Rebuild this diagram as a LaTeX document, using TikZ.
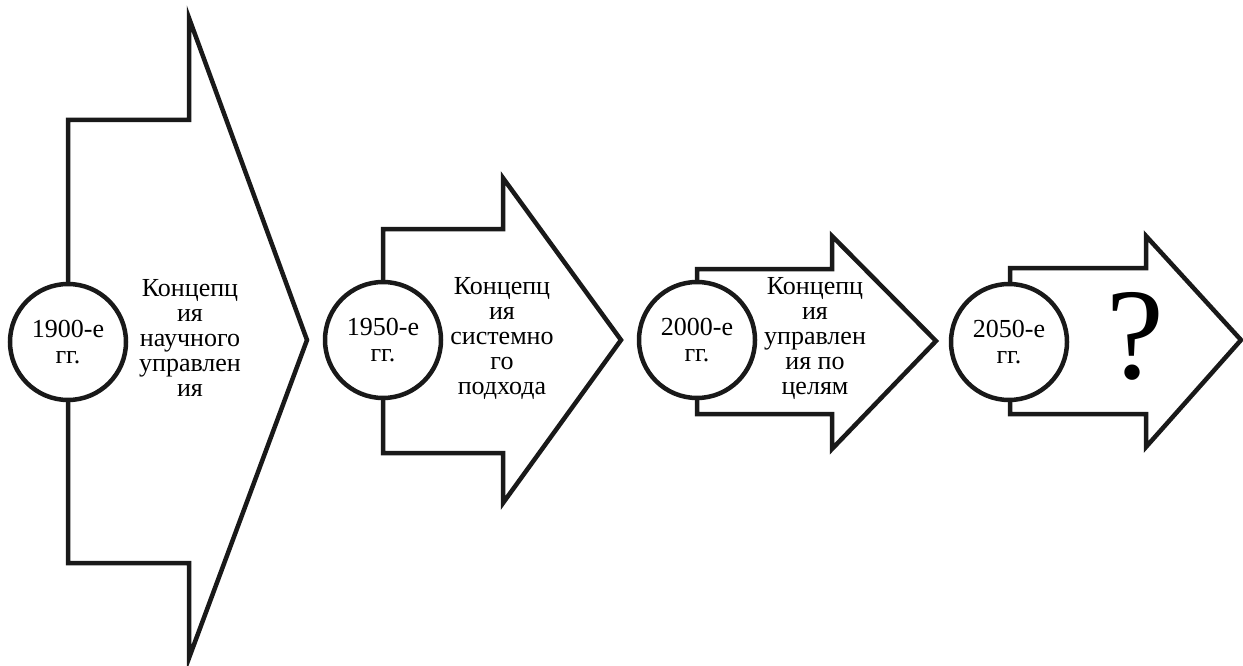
\documentclass[tikz,border=0pt]{standalone}
\usepackage{fontspec}
\setmainfont{Liberation Serif}
\begin{document}
\begin{tikzpicture}[x=1pt,y=-1pt,
  arrowshape/.style={draw=black!90, line width=4.5pt, fill=white, line join=miter, miter limit=20},
  yearcircle/.style={circle, draw=black!90, line width=4.5pt, fill=white, minimum size=116pt, inner sep=0pt, align=center, font=\fontsize{26}{26}\selectfont},
  conceptlabel/.style={align=center, inner sep=0pt, font=\fontsize{26}{25}\selectfont}]
\useasboundingbox (0,0) rectangle (1243,666);
% arrow 1
\draw[arrowshape] (68,120) -- (189,120) -- (189,18) -- (307,340) -- (189,658) -- (189,563) -- (68,563) -- cycle;
\node[yearcircle] (c1) at (68,342) {1900-е\\гг.};
\node[conceptlabel] (t1) at (190,338) {Концепц\\ия\\научного\\управлен\\ия};
% arrow 2
\draw[arrowshape] (383,229) -- (503,229) -- (503,178) -- (621,340) -- (503,503) -- (503,453) -- (383,453) -- cycle;
\node[yearcircle] (c2) at (383,340) {1950-е\\гг.};
\node[conceptlabel] (t2) at (502,338) {Концепц\\ия\\системно\\го\\подхода};
% arrow 3
\draw[arrowshape] (697,269) -- (832,269) -- (832,236) -- (936,341) -- (832,449) -- (832,414) -- (697,414) -- cycle;
\node[yearcircle] (c3) at (697,340) {2000-е\\гг.};
\node[conceptlabel] (t3) at (815,338) {Концепц\\ия\\управлен\\ия по\\целям};
% arrow 4
\draw[arrowshape] (1010,268) -- (1146,268) -- (1146,236) -- (1241,340) -- (1146,447) -- (1146,414) -- (1010,414) -- cycle;
\node[yearcircle] (c4) at (1009,342) {2050-е\\гг.};
\node[font=\fontsize{130}{130}\selectfont, inner sep=0pt] (q4) at (1135,336) {?};
\end{tikzpicture}
\end{document}
